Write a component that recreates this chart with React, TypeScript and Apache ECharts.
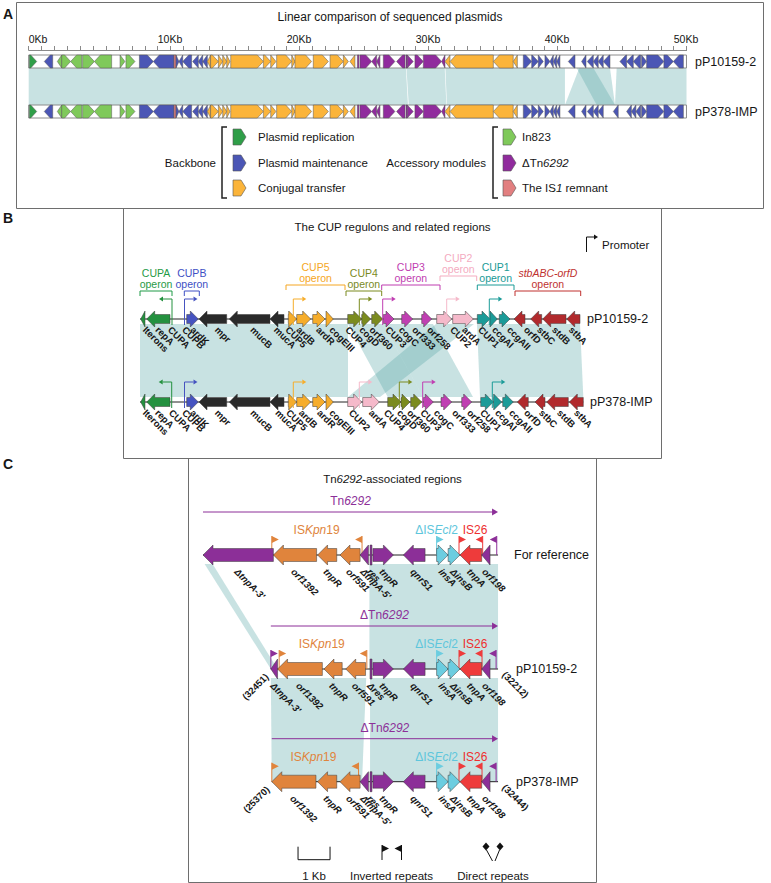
import React, { useEffect, useRef } from 'react';
import * as echarts from 'echarts';

const FONT = '"Liberation Sans", Arial, Helvetica, sans-serif';
const INK = '#161616';

/* ================= Panel A : linear comparison (kb) ================= */
const plasmidNames = ['pP10159-2', 'pP378-IMP'];
const plasmidLengthKb = [50.99, 50.99];
const moduleColors: Record<string, string> = {
  rep: '#2f9e48', main: '#4b56b5', conj: '#fbb43a', in823: '#7fc95a', tn: '#902b9d', is1: '#e27f80',
};
const backboneLegend = [['rep', 'Plasmid replication'], ['main', 'Plasmid maintenance'], ['conj', 'Conjugal transfer']];
const accessoryLegend = [['in823', 'In823'], ['tn', 'ΔTn*6292*'], ['is1', 'The IS*1* remnant']];

// [start kb, end kb, strand, module]
const genesAShared: [number, number, number, string][] = [
  [0.05, 0.62, 1, 'rep'], [1.21, 1.86, -1, 'main'],
  [2.22, 2.56, -1, 'in823'], [2.56, 3.25, 1, 'in823'], [3.25, 4.11, -1, 'in823'], [4.18, 5.09, 1, 'in823'],
  [5.09, 6.43, -1, 'in823'], [7.08, 7.46, 1, 'in823'], [7.54, 8.24, 1, 'in823'],
  [8.58, 9.66, 1, 'main'], [9.66, 11.26, -1, 'main'], [11.26, 11.42, 0, 'is1'],
  [11.42, 11.65, 1, 'main'], [11.65, 11.94, -1, 'main'], [11.94, 12.63, -1, 'main'], [12.71, 13.15, -1, 'main'],
  [13.15, 13.49, -1, 'main'], [13.49, 13.85, -1, 'main'],
  [13.85, 14.1, -1, 'conj'], [14.1, 14.7, 1, 'conj'], [14.7, 15.04, 1, 'conj'], [15.04, 15.35, 1, 'conj'],
  [15.35, 15.6, 1, 'conj'], [15.66, 18.19, 1, 'conj'], [18.19, 18.76, 1, 'conj'], [18.76, 19.17, 1, 'conj'],
  [19.22, 20.39, 1, 'conj'], [20.39, 20.64, 1, 'conj'], [20.64, 21.93, 1, 'conj'], [22.06, 23.23, 1, 'conj'],
  [23.36, 24.39, 1, 'conj'], [24.39, 24.78, 1, 'conj'], [24.9, 25.29, -1, 'conj'],
  [25.48, 25.6, 0, 'tn'], [25.68, 26.59, 1, 'tn'], [26.59, 26.97, -1, 'tn'], [26.97, 27.23, -1, 'tn'],
  [27.49, 28.39, 1, 'tn'], [28.52, 29.17, -1, 'tn'], [29.25, 29.35, 0, 'tn'], [29.35, 29.81, 1, 'tn'],
  [29.94, 30.59, 1, 'tn'], [30.59, 32.01, 1, 'tn'], [32.01, 32.27, -1, 'tn'],
  [32.27, 32.66, -1, 'conj'], [32.66, 36.02, -1, 'conj'], [36.02, 37.56, -1, 'conj'], [37.56, 37.88, -1, 'conj'],
  [38.34, 38.99, 1, 'main'], [38.99, 39.5, 1, 'main'], [39.5, 39.89, 1, 'main'], [40.02, 40.41, 1, 'main'],
  [40.41, 40.67, -1, 'main'], [40.67, 40.93, -1, 'main'], [40.93, 41.18, -1, 'main'], [41.83, 42.35, -1, 'main'],
];
const genesATail1: [number, number, number, string][] = [
  [42.86, 43.2, -1, 'main'], [43.3, 43.77, -1, 'main'], [43.77, 44.15, -1, 'main'], [44.15, 44.54, -1, 'main'],
  [44.54, 45.06, -1, 'main'], [45.83, 46.35, -1, 'main'], [46.35, 46.87, -1, 'main'], [46.87, 47.44, -1, 'main'],
  [47.51, 47.9, 1, 'main'], [47.9, 49.24, 1, 'main'], [49.24, 49.97, 1, 'main'], [49.97, 50.75, -1, 'main'],
];
const genesATail2: [number, number, number, string][] = [
  [42.86, 43.2, -1, 'main'], [43.3, 43.77, -1, 'main'], [43.77, 44.15, -1, 'main'], [44.15, 44.54, -1, 'main'],
  [45.32, 45.7, -1, 'main'], [46.35, 46.72, -1, 'main'], [46.72, 47.07, -1, 'main'], [47.07, 47.44, -1, 'main'],
  [47.51, 47.9, 1, 'main'], [47.9, 49.24, 1, 'main'], [49.24, 49.97, 1, 'main'], [49.97, 50.75, -1, 'main'],
];
// homologous blocks: [top start, top end, bottom start, bottom end]
const syntenyA = [
  [0, 29.24, 0, 29.4], [29.28, 32.25, 29.46, 32.38], [32.3, 41.57, 32.42, 41.57],
  [42.68, 45.06, 41.57, 45.45], [42.48, 43.77, 44.03, 45.45], [45.58, 50.99, 45.45, 50.99],
];

/* ================= Panel B : CUP regions (relative units) ================= */
const groupColors: Record<string, string> = {
  cupA: '#24913f', cupB: '#4653c0', mob: '#2a2a2a', cup5: '#f6ad2b', cup4: '#7b8b1f',
  cup3: '#c03fb2', cup2: '#f5b9ca', cup1: '#1b9b98', stb: '#b12a2d',
};
const groupTextColors: Record<string, string> = {
  cupA: '#1f9a46', cupB: '#3e4fc4', cup5: '#f5a623', cup4: '#7a8a1e', cup3: '#bf3db0',
  cup2: '#f4abbf', cup1: '#1a9a96', stb: '#c0312f',
};
const genesB1: [number, number, number, string][] = [
  [0.07, 0.5, -1, 'cupA'], [0.67, 3.0, -1, 'cupA'], [4.67, 5.83, 1, 'cupB'], [5.9, 8.67, -1, 'mob'],
  [8.93, 13.0, -1, 'mob'], [13.0, 14.4, -1, 'mob'], [14.83, 15.67, 1, 'cup5'], [15.67, 17.07, 1, 'cup5'],
  [17.27, 18.5, 1, 'cup5'], [18.6, 19.33, 1, 'cup5'], [20.77, 22.17, 1, 'cup4'], [22.17, 23.07, 1, 'cup4'],
  [23.17, 24.27, 1, 'cup4'], [24.33, 25.4, 1, 'cup3'], [26.17, 27.27, 1, 'cup3'], [28.17, 29.17, 1, 'cup3'],
  [29.67, 31.17, 1, 'cup2'], [31.27, 33.33, 1, 'cup2'], [33.73, 35.0, 1, 'cup1'], [35.0, 35.73, 1, 'cup1'],
  [35.93, 37.0, 1, 'cup1'], [37.4, 38.5, -1, 'stb'], [39.07, 40.17, -1, 'stb'], [40.27, 42.6, -1, 'stb'],
  [42.67, 44.0, -1, 'stb'],
];
const genesB2: [number, number, number, string][] = [
  [0.07, 0.5, -1, 'cupA'], [0.67, 3.0, -1, 'cupA'], [4.67, 5.83, 1, 'cupB'], [5.9, 8.67, -1, 'mob'],
  [8.93, 13.0, -1, 'mob'], [13.0, 14.4, -1, 'mob'], [14.83, 15.67, 1, 'cup5'], [15.67, 17.07, 1, 'cup5'],
  [17.27, 18.5, 1, 'cup5'], [18.6, 19.33, 1, 'cup5'], [20.77, 22.17, 1, 'cup2'], [22.27, 23.93, 1, 'cup2'],
  [24.77, 26.1, 1, 'cup4'], [26.1, 27.0, 1, 'cup4'], [27.07, 28.17, 1, 'cup4'], [28.33, 29.33, 1, 'cup3'],
  [30.1, 31.17, 1, 'cup3'], [32.17, 33.17, 1, 'cup3'], [34.07, 35.33, 1, 'cup1'], [35.33, 36.17, 1, 'cup1'],
  [36.27, 37.33, 1, 'cup1'], [37.73, 38.83, -1, 'stb'], [39.5, 40.5, -1, 'stb'], [40.67, 42.83, -1, 'stb'],
  [42.93, 44.33, -1, 'stb'],
];
const backboneB = [[0, 44.0], [0, 44.33]];
const labelsB1: [string, number][] = [
  ['Iterons', 0.47], ['repA', 1.73], ['CUPA', 2.97], ['CUPB', 4.4], ['ardK', 5.23], ['mpr', 7.67],
  ['mucB', 11.23], ['mucA', 13.57], ['CUP5', 14.73], ['ardB', 15.83], ['ardR', 17.8], ['cogEIII', 19.13],
  ['CUP4', 20.73], ['cogD', 22.13], ['orf360', 23.13], ['CUP3', 24.73], ['cogC', 26.07], ['orf333', 27.4],
  ['orf258', 28.9], ['CUP2', 31.2], ['ardA', 32.4], ['CUP1', 34.0], ['ccgAI', 35.4], ['ccgAII', 36.9],
  ['orfD', 38.57], ['stbC', 39.9], ['stdB', 41.4], ['stbA', 43.07],
];
const labelsB2: [string, number][] = [
  ['Iterons', 0.47], ['repA', 1.7], ['CUPA', 3.07], ['CUPB', 4.4], ['ardK', 5.2], ['mpr', 7.67],
  ['mucB', 11.23], ['mucA', 13.73], ['CUP5', 14.8], ['ardB', 16.07], ['ardR', 17.9], ['cogEIII', 19.13],
  ['CUP2', 21.07], ['ardA', 23.07], ['CUP4', 24.57], ['cogD', 25.9], ['orf360', 26.9], ['CUP3', 28.23],
  ['cogC', 29.57], ['orf333', 31.4], ['orf258', 32.9], ['CUP1', 34.2], ['ccgAI', 35.7], ['ccgAII', 37.1],
  ['orfD', 38.6], ['stbC', 40.1], ['stdB', 41.9], ['stbA', 43.6],
];
// [name, group, bracket start, bracket end, tier]
const operonsB: [string, string, number, number, number][] = [
  ['CUPA', 'cupA', 0, 3.2, 0], ['CUPB', 'cupB', 4.43, 5.93, 0], ['CUP5', 'cup5', 14.6, 20.5, 1],
  ['CUP4', 'cup4', 20.6, 24.17, 0], ['CUP3', 'cup3', 24.17, 30.0, 1], ['CUP2', 'cup2', 30.0, 33.67, 2],
  ['CUP1', 'cup1', 33.73, 37.4, 1], ['*stbABC-orfD*', 'stb', 37.5, 44.07, 0],
];
// [position, direction, group]
const promotersB1: [number, number, string][] = [
  [3.2, -1, 'cupA'], [4.45, 1, 'cupB'], [15.33, 1, 'cup5'], [21.93, 1, 'cup4'], [24.27, 1, 'cup3'],
  [30.67, 1, 'cup2'], [34.93, 1, 'cup1'],
];
const promotersB2: [number, number, string][] = [
  [3.17, -1, 'cupA'], [4.45, 1, 'cupB'], [15.33, 1, 'cup5'], [21.93, 1, 'cup2'], [25.93, 1, 'cup4'],
  [28.27, 1, 'cup3'], [35.23, 1, 'cup1'],
];
const syntenyB = [
  [0, 20.8, 0, 20.8], [20.8, 24.3, 24.77, 28.3], [24.3, 29.3, 28.3, 33.3],
  [29.6, 33.4, 20.8, 24.0], [33.7, 44.0, 34.0, 44.33],
];

/* ================= Panel C : Tn6292-associated regions (kb) ================= */
const elementColors: Record<string, string> = { tn: '#8c2f98', isk: '#e0843c', isecl: '#6ccde0', is26: '#ee3b3b' };
const elementTextColors: Record<string, string> = { tn: '#8c2f98', isk: '#e0843c', isecl: '#5ec6dc', is26: '#ee2f2f' };
const rowNamesC = ['For reference', 'pP10159-2', 'pP378-IMP'];
const genesC1: [number, number, number, string, string][] = [
  [0.0, 2.2, -1, 'tn', "ΔtnpA-3'"], [2.2, 3.55, -1, 'isk', 'orf1392'], [3.58, 4.18, -1, 'isk', 'tnpR'],
  [4.28, 4.91, -1, 'isk', 'orf591'], [4.91, 5.17, -1, 'tn', "ΔtnpA-5'"], [5.22, 5.28, 0, 'tn', 'res'],
  [5.31, 5.95, 1, 'tn', 'tnpR'], [6.26, 6.94, -1, 'tn', 'qnrS1'], [7.3, 7.66, 1, 'isecl', 'insA'],
  [7.66, 8.03, 1, 'isecl', 'ΔinsB'], [8.03, 8.71, -1, 'is26', 'tnpA'], [8.71, 8.97, -1, 'tn', 'orf198'],
];
const genesC2: [number, number, number, string, string][] = [
  [2.12, 2.33, -1, 'tn', "ΔtnpA-3'"], [2.33, 3.73, -1, 'isk', 'orf1392'], [3.78, 4.35, -1, 'isk', 'tnpR'],
  [4.46, 5.08, -1, 'isk', 'orf591'], [5.22, 5.28, 0, 'tn', 'Δres'], [5.31, 5.95, 1, 'tn', 'tnpR'],
  [6.26, 6.94, -1, 'tn', 'qnrS1'], [7.3, 7.66, 1, 'isecl', 'insA'], [7.66, 8.03, 1, 'isecl', 'ΔinsB'],
  [8.03, 8.71, -1, 'is26', 'tnpA'], [8.71, 8.97, -1, 'tn', 'orf198'],
];
const genesC3: [number, number, number, string, string][] = [
  [2.15, 3.53, -1, 'isk', 'orf1392'], [3.58, 4.18, -1, 'isk', 'tnpR'], [4.28, 4.91, -1, 'isk', 'orf591'],
  [4.91, 5.17, -1, 'tn', "ΔtnpA-5'"], [5.22, 5.28, 0, 'tn', 'res'], [5.31, 5.95, 1, 'tn', 'tnpR'],
  [6.26, 6.94, -1, 'tn', 'qnrS1'], [7.3, 7.66, 1, 'isecl', 'insA'], [7.66, 8.03, 1, 'isecl', 'ΔinsB'],
  [8.03, 8.71, -1, 'is26', 'tnpA'], [8.71, 8.97, -1, 'tn', 'orf198'],
];
const backboneC = [[0, 9.22], [2.12, 9.22], [2.15, 9.22]];
const transposonC = ['Tn*6292*', 'ΔTn*6292*', 'ΔTn*6292*'];
// [label, element, centre kb]
const isLabelsC: [string, string, number][][] = [
  [['IS*Kpn*19', 'isk', 3.55], ['ΔIS*Ecl*2', 'isecl', 7.3], ['IS26', 'is26', 8.5]],
  [['IS*Kpn*19', 'isk', 3.71], ['ΔIS*Ecl*2', 'isecl', 7.3], ['IS26', 'is26', 8.5]],
  [['IS*Kpn*19', 'isk', 3.45], ['ΔIS*Ecl*2', 'isecl', 7.3], ['IS26', 'is26', 8.5]],
];
// inverted repeats: [position kb, direction, element]
const flagsC: [number, number, string][][] = [
  [[2.15, 1, 'isk'], [4.97, -1, 'isk'], [7.3, 1, 'isecl'], [8.0, 1, 'is26'], [8.74, -1, 'is26'], [9.18, -1, 'tn']],
  [[2.12, 1, 'tn'], [2.38, 1, 'isk'], [5.12, -1, 'isk'], [7.3, 1, 'isecl'], [8.0, 1, 'is26'], [8.72, -1, 'is26'], [9.16, -1, 'tn']],
  [[2.15, 1, 'isk'], [4.86, -1, 'isk'], [7.3, 1, 'isecl'], [8.0, 1, 'is26'], [8.72, -1, 'is26'], [9.16, -1, 'tn']],
];
const coordLabelsC: [string, string][] = [['', ''], ['(32451)', '(32212)'], ['(25370)', '(32444)']];
// [top row, top start, top end, bottom start, bottom end]
const syntenyC = [
  [0, 0.05, 0.3, 2.12, 2.33], [0, 5.2, 9.22, 5.2, 9.22],
  [1, 2.12, 5.1, 2.15, 4.97], [1, 5.22, 9.22, 5.22, 9.22],
];
const scaleBarKb = [2.97, 3.97];

/* ================= layout (pixels) ================= */
const LA = { rowY: [11.5, 61.5], half: 6.5, head: 6 };
const LB = { rowY: [109, 192], bh: 4.5, hh: 8, hl: 8 };
const LC = { rowY: [97, 211, 323.7], bh: 6.5, hh: 10, hl: 10 };
const legendRowsA = [137, 163, 188];
const SYN_FILL = 'rgba(88,168,168,0.33)';

function richLine(s: string) {
  return s.split('*').map((p, i) => (p ? `{${i % 2 ? 'i' : 'n'}|${p}}` : '')).join('');
}
function richify(s: string) {
  return s.split('\n').map(richLine).join('\n');
}
function T(x: number, y: number, text: string, o: any = {}) {
  const align = o.align || 'left';
  const va = o.va || 'middle';
  const size = o.size || 11;
  const color = o.color || INK;
  const weight = o.bold ? 'bold' : 'normal';
  const lh = o.lineHeight || Math.round(size * 1.2);
  const st: any = {
    text, fill: color, fontSize: size, fontFamily: FONT, fontStyle: o.italic ? 'italic' : 'normal',
    fontWeight: weight, align, verticalAlign: va, textAlign: align, textVerticalAlign: va, lineHeight: lh,
  };
  if (text.indexOf('*') >= 0) {
    st.text = richify(text);
    st.rich = {
      n: { fontSize: size, fontFamily: FONT, fill: color, fontWeight: weight, fontStyle: 'normal', lineHeight: lh },
      i: { fontSize: size, fontFamily: FONT, fill: color, fontWeight: weight, fontStyle: 'italic', lineHeight: lh },
    };
  }
  const el: any = { type: 'text', x, y, rotation: o.rot || 0, style: st };
  if (o.z != null) el.z = o.z;
  return el;
}
function arrow(x1: number, x2: number, cy: number, strand: number, bh: number, hh: number, hl: number) {
  const len = x2 - x1;
  if (strand === 0) return [[x1, cy - hh], [x2, cy - hh], [x2, cy + hh], [x1, cy + hh]];
  if (strand > 0) {
    if (len <= hl) return [[x1, cy - hh], [x2, cy], [x1, cy + hh]];
    return [[x1, cy - bh], [x2 - hl, cy - bh], [x2 - hl, cy - hh], [x2, cy], [x2 - hl, cy + hh], [x2 - hl, cy + bh], [x1, cy + bh]];
  }
  if (len <= hl) return [[x2, cy - hh], [x1, cy], [x2, cy + hh]];
  return [[x2, cy - bh], [x1 + hl, cy - bh], [x1 + hl, cy - hh], [x1, cy], [x1 + hl, cy + hh], [x1 + hl, cy + bh], [x2, cy + bh]];
}
function cs(gi: number, items: any[], render: (it: any, api: any) => any, z: number) {
  return {
    type: 'custom', coordinateSystem: 'cartesian2d', xAxisIndex: gi, yAxisIndex: gi, silent: true,
    clip: false, z, data: items.map((_, i) => [i, 0]),
    renderItem: (params: any, api: any) => render(items[params.dataIndex], api),
  };
}
const poly = (points: number[][], fill: string, stroke?: string, lw = 0.6) => ({
  type: 'polygon', shape: { points }, style: { fill, stroke: stroke || null, lineWidth: lw },
});
const pline = (points: number[][], stroke: string, lw = 1) => ({
  type: 'polyline', shape: { points }, style: { stroke, lineWidth: lw, fill: null },
});

function buildOption() {
  const series: any[] = [];

  /* ---- Panel A ---- */
  const genesA = [[...genesAShared, ...genesATail1], [...genesAShared, ...genesATail2]];
  series.push(cs(0, syntenyA, (b, api) => {
    const yT = LA.rowY[0] + LA.half, yB = LA.rowY[1] - LA.half;
    const p = [api.coord([b[0], yT]), api.coord([b[1], yT]), api.coord([b[3], yB]), api.coord([b[2], yB])];
    return poly(p, SYN_FILL);
  }, 1));
  series.push(cs(0, plasmidNames.map((n, r) => r), (r, api) => {
    const a = api.coord([0, LA.rowY[r] - LA.half]);
    const b = api.coord([plasmidLengthKb[r], LA.rowY[r] + LA.half]);
    return { type: 'rect', shape: { x: a[0], y: a[1], width: b[0] - a[0], height: b[1] - a[1] }, style: { fill: '#fff', stroke: '#8c8c8c', lineWidth: 1 } };
  }, 2));
  const flatA = genesA.flatMap((row, r) => row.map((g) => ({ g, r })));
  series.push(cs(0, flatA, (it, api) => {
    const [s, e, strand, mod] = it.g;
    const y = LA.rowY[it.r];
    const p1 = api.coord([s, y]), p2 = api.coord([e, y]);
    return poly(arrow(p1[0], p2[0], p1[1], strand, LA.half, LA.half, LA.head), moduleColors[mod], '#555', 0.5);
  }, 3));

  /* ---- Panel B ---- */
  series.push(cs(1, syntenyB, (b, api) => {
    const yT = LB.rowY[0] + 5, yB = LB.rowY[1] - 5;
    return poly([api.coord([b[0], yT]), api.coord([b[1], yT]), api.coord([b[3], yB]), api.coord([b[2], yB])], SYN_FILL);
  }, 1));
  series.push(cs(1, backboneB.map((s, r) => ({ s, r })), (it, api) => {
    const a = api.coord([it.s[0], LB.rowY[it.r]]), b = api.coord([it.s[1], LB.rowY[it.r]]);
    return pline([a, b], '#222', 1);
  }, 2));
  const flatPromB = [promotersB1, promotersB2].flatMap((row, r) => row.map((p) => ({ p, r })));
  series.push(cs(1, flatPromB, (it, api) => {
    const [pos, dir, grp] = it.p;
    const c = groupColors[grp];
    const pt = api.coord([pos, LB.rowY[it.r]]);
    const x0 = pt[0], yb = pt[1] + 6, ya = pt[1] - 20, xe = x0 + dir * 9;
    return { type: 'group', children: [
      pline([[x0, yb], [x0, ya], [xe, ya]], c, 1),
      poly([[xe, ya - 2.5], [xe + dir * 4, ya], [xe, ya + 2.5]], c),
    ] };
  }, 4));
  const flatB = [genesB1, genesB2].flatMap((row, r) => row.map((g) => ({ g, r })));
  series.push(cs(1, flatB, (it, api) => {
    const [s, e, strand, grp] = it.g;
    const y = LB.rowY[it.r];
    const p1 = api.coord([s, y]), p2 = api.coord([e, y]);
    return poly(arrow(p1[0], p2[0], p1[1], strand, LB.bh, LB.hh, LB.hl), groupColors[grp], '#3a3a3a', 0.5);
  }, 3));
  const flatLB = [labelsB1, labelsB2].flatMap((row, r) => row.map((l) => ({ l, r })));
  series.push(cs(1, flatLB, (it, api) => {
    const p = api.coord([it.l[1], LB.rowY[it.r] + 9]);
    return T(p[0], p[1], it.l[0], { size: 9.5, rot: -Math.PI / 4, bold: true });
  }, 5));
  const tiers = [-28, -34, -43];
  series.push(cs(1, operonsB, (op, api) => {
    const [name, grp, s, e, tier] = op;
    const yb = LB.rowY[0] + tiers[tier];
    const a = api.coord([s, yb]), b = api.coord([e, yb]);
    const c = groupTextColors[grp];
    const cx = (a[0] + b[0]) / 2;
    return { type: 'group', children: [
      pline([[a[0], a[1] + 5], a, b, [b[0], b[1] + 5]], c, 1),
      T(cx, a[1] - 2, name + '\noperon', { align: 'center', va: 'bottom', color: c, size: 10.5, lineHeight: 10.5 }),
    ] };
  }, 3));

  /* ---- Panel C ---- */
  series.push(cs(2, syntenyC, (b, api) => {
    const yT = LC.rowY[b[0]] + 9, yB = LC.rowY[b[0] + 1];
    return poly([api.coord([b[1], yT]), api.coord([b[2], yT]), api.coord([b[4], yB]), api.coord([b[3], yB])], SYN_FILL);
  }, 1));
  series.push(cs(2, backboneC.map((s, r) => ({ s, r })), (it, api) => {
    const y = LC.rowY[it.r];
    const a = api.coord([it.s[0], y]), b = api.coord([it.s[1], y]);
    const la = api.coord([it.s[0], y - 43]), lb = api.coord([it.s[1], y - 43]);
    const cx = (la[0] + lb[0]) / 2;
    const c = elementColors.tn;
    return { type: 'group', children: [
      pline([a, b], '#222', 1),
      pline([la, [lb[0] - 4, lb[1]]], c, 1),
      poly([[lb[0] - 6, lb[1] - 3.5], [lb[0], lb[1]], [lb[0] - 6, lb[1] + 3.5]], c),
      T(cx, la[1] - 11, transposonC[it.r], { align: 'center', color: c, size: 12 }),
    ] };
  }, 2));
  const flatIS = isLabelsC.flatMap((row, r) => row.map((l) => ({ l, r })));
  series.push(cs(2, flatIS, (it, api) => {
    const [name, el, pos] = it.l;
    const p = api.coord([pos, LC.rowY[it.r] - 25]);
    return T(p[0], p[1], name, { align: 'center', color: elementTextColors[el], size: 12 });
  }, 2));
  const flatFlags = flagsC.flatMap((row, r) => row.map((f) => ({ f, r })));
  series.push(cs(2, flatFlags, (it, api) => {
    const [pos, dir, el] = it.f;
    const c = elementColors[el];
    const p = api.coord([pos, LC.rowY[it.r]]);
    const top = p[1] - 19;
    return { type: 'group', children: [
      pline([[p[0], p[1]], [p[0], top]], c, 1),
      poly([[p[0], top], [p[0] + dir * 7, top + 3.5], [p[0], top + 7]], c),
    ] };
  }, 2));
  const flatC = [genesC1, genesC2, genesC3].flatMap((row, r) => row.map((g) => ({ g, r })));
  series.push(cs(2, flatC, (it, api) => {
    const [s, e, strand, el] = it.g;
    const y = LC.rowY[it.r];
    const p1 = api.coord([s, y]), p2 = api.coord([e, y]);
    return poly(arrow(p1[0], p2[0], p1[1], strand, LC.bh, LC.hh, LC.hl), elementColors[el], '#3a3a3a', 0.5);
  }, 3));
  series.push(cs(2, flatC, (it, api) => {
    const [s, e, , , name] = it.g;
    const p = api.coord([(s + e) / 2, LC.rowY[it.r] + 15]);
    return T(p[0] - 2, p[1], name, { size: 9.5, rot: -Math.PI / 4, italic: true, bold: true });
  }, 5));
  series.push(cs(2, coordLabelsC.map((c, r) => ({ c, r })).filter((d) => d.c[0]), (it, api) => {
    const y = LC.rowY[it.r];
    const a = api.coord([backboneC[it.r][0], y]), b = api.coord([backboneC[it.r][1], y]);
    return { type: 'group', children: [
      T(a[0] - 4, a[1] + 6, it.c[0], { align: 'right', rot: Math.PI / 4, size: 9.5, bold: true }),
      T(b[0] + 6, b[1] + 4, it.c[1], { align: 'left', rot: -Math.PI / 4, size: 9.5, bold: true }),
    ] };
  }, 5));
  series.push(cs(2, [scaleBarKb], (sb, api) => {
    const y = LC.rowY[2] + 78;
    const a = api.coord([sb[0], y]), b = api.coord([sb[1], y]);
    return { type: 'group', children: [
      pline([[a[0], a[1] - 13], a, b, [b[0], b[1] - 13]], '#111', 1),
      T((a[0] + b[0]) / 2, a[1] + 16, '1 Kb', { align: 'center', size: 11.5 }),
    ] };
  }, 2));

  /* ---- static graphics ---- */
  const g: any[] = [];
  const box = (x: number, y: number, w: number, h: number) => ({
    type: 'rect', shape: { x, y, width: w, height: h }, style: { fill: 'none', stroke: '#6e6e6e', lineWidth: 1 }, z: 0,
  });
  g.push(box(16.5, 2.5, 747, 206));
  g.push(box(123.5, 208.5, 538, 250));
  g.push(box(188.5, 458.5, 408, 424));
  g.push(T(3, 14, 'A', { bold: true, size: 14 }));
  g.push(T(3, 218, 'B', { bold: true, size: 14 }));
  g.push(T(3, 464, 'C', { bold: true, size: 14 }));
  g.push(T(390, 17, 'Linear comparison of sequenced plasmids', { align: 'center', size: 12 }));
  g.push(T(392.5, 227, 'The CUP regulons and related regions', { align: 'center', size: 11.5 }));
  g.push(T(392.5, 479, 'Tn*6292*-associated regions', { align: 'center', size: 11.5 }));
  // panel A track names
  plasmidNames.forEach((n, r) => g.push(T(695, 50 + LA.rowY[r], n, { size: 12.5 })));
  // panel A legend
  const icon = (x: number, y: number, c: string) => poly([[x, y - 8], [x + 8, y - 8], [x + 13, y], [x + 8, y + 8], [x, y + 8]], c, '#555', 0.6);
  const bracket = (x: number) => pline([[x + 5, legendRowsA[0] - 10], [x, legendRowsA[0] - 10], [x, legendRowsA[2] + 10], [x + 5, legendRowsA[2] + 10]], '#222', 1.5);
  g.push(T(216, legendRowsA[1], 'Backbone', { align: 'right', size: 11.5 }));
  g.push(bracket(222));
  backboneLegend.forEach(([k, lab], i) => {
    g.push(icon(233, legendRowsA[i], moduleColors[k]));
    g.push(T(258, legendRowsA[i], lab, { size: 11.5 }));
  });
  g.push(T(486, legendRowsA[1], 'Accessory modules', { align: 'right', size: 11.5 }));
  g.push(bracket(493));
  accessoryLegend.forEach(([k, lab], i) => {
    g.push(icon(503, legendRowsA[i], moduleColors[k]));
    g.push(T(522, legendRowsA[i], lab, { size: 11.5 }));
  });
  // panel B
  g.push(T(587, 210 + LB.rowY[0], 'pP10159-2', { size: 12.5 }));
  g.push(T(590, 210 + LB.rowY[1], 'pP378-IMP', { size: 12.5 }));
  g.push(pline([[586.5, 252], [586.5, 237], [594, 237]], '#111', 1));
  g.push(poly([[594, 234.5], [598, 237], [594, 239.5]], '#111'));
  g.push(T(602, 245, 'Promoter', { size: 11.5 }));
  // panel C
  rowNamesC.forEach((n, r) => g.push(T(r === 0 ? 514 : 516, 458 + LC.rowY[r], n, { size: 12.5 })));
  // inverted repeats legend
  g.push(pline([[382, 860], [382, 845]], '#111', 1));
  g.push(poly([[382, 845], [389, 848.5], [382, 852]], '#111'));
  g.push(pline([[401.5, 860], [401.5, 845]], '#111', 1));
  g.push(poly([[401.5, 845], [394.5, 848.5], [401.5, 852]], '#111'));
  g.push(T(391.5, 875.5, 'Inverted repeats', { align: 'center', size: 11.5 }));
  // direct repeats legend
  g.push(poly([[486, 842.5], [489.5, 846.5], [486, 850.5], [482.5, 846.5]], '#111'));
  g.push(poly([[500, 842.5], [503.5, 846.5], [500, 850.5], [496.5, 846.5]], '#111'));
  g.push(pline([[486.5, 850], [492.5, 861]], '#111', 1));
  g.push(pline([[499.5, 850], [495, 861]], '#111', 1));
  g.push(T(493, 875.5, 'Direct repeats', { align: 'center', size: 11.5 }));

  return {
    animation: false,
    backgroundColor: '#ffffff',
    grid: [
      { left: 28.7, top: 50, width: 657.9, height: 80 },
      { left: 140, top: 210, width: 445, height: 248 },
      { left: 203, top: 458, width: 296, height: 425 },
    ],
    xAxis: [
      {
        gridIndex: 0, type: 'value', min: 0, max: 51, interval: 1, position: 'top',
        axisLine: { show: true, lineStyle: { color: '#8a8a8a', width: 1 } },
        axisTick: { show: true, length: 4, lineStyle: { color: '#8a8a8a' } },
        splitLine: { show: false },
        axisLabel: {
          margin: 6, align: 'left', color: INK, fontSize: 10.5, fontFamily: FONT,
          formatter: (v: number) => (Math.round(v) % 10 === 0 ? `${Math.round(v)}Kb` : ''),
        },
      },
      { gridIndex: 1, type: 'value', min: 0, max: 44.5, show: false },
      { gridIndex: 2, type: 'value', min: 0, max: 9.25, show: false },
    ],
    yAxis: [
      { gridIndex: 0, type: 'value', min: 0, max: 80, inverse: true, show: false },
      { gridIndex: 1, type: 'value', min: 0, max: 248, inverse: true, show: false },
      { gridIndex: 2, type: 'value', min: 0, max: 425, inverse: true, show: false },
    ],
    graphic: { elements: g },
    series,
  };
}

export default function App() {
  const ref = useRef<HTMLDivElement>(null);
  useEffect(() => {
    const chart = echarts.init(ref.current!, null, { renderer: 'svg' });
    chart.setOption(buildOption() as any);
    return () => chart.dispose();
  }, []);
  return <div ref={ref} style={{ position: 'absolute', left: 0, top: 0, width: 771, height: 883 }} />;
}
